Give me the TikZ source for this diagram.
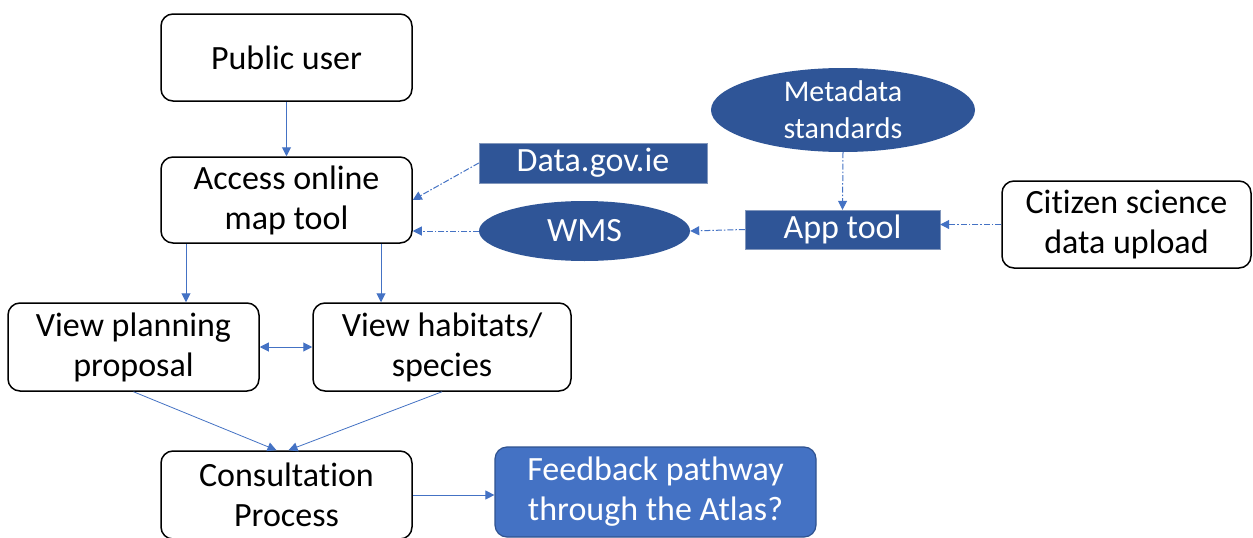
\documentclass[tikz,border=0pt]{standalone}
\usepackage{fontspec}
\setmainfont{Carlito}[Ligatures={NoCommon}]
\usetikzlibrary{arrows.meta,shapes.geometric}
\definecolor{dkblue}{HTML}{2F5597}
\definecolor{mdblue}{HTML}{4472C4}
\definecolor{bdblue}{HTML}{2F528F}
\tikzset{
  bigfont/.style={font=\fontsize{34}{40}\selectfont},
  whitebox/.style={draw=black, line width=1.5pt, rounded corners=12pt, fill=white, align=center,
    bigfont, inner sep=0pt},
  darkrect/.style={draw=bdblue!60, fill=dkblue, text=white, align=center, inner sep=0pt, bigfont},
  darkell/.style={ellipse, fill=dkblue, text=white, align=center, inner sep=0pt},
  feedbox/.style={draw=bdblue, line width=1.2pt, fill=mdblue, text=white, rounded corners=12pt, align=center,
    inner sep=0pt, bigfont},
  solidarrow/.style={draw=mdblue, line width=1pt, -{Triangle[length=9pt,width=9pt]}},
  dasharrow/.style={draw=mdblue, line width=1pt, dash pattern=on 6pt off 2pt on 1.5pt off 2pt,
    -{Triangle[length=9pt,width=9pt]}},
}
\begin{document}
\begin{tikzpicture}[x=1pt,y=-1pt]
\useasboundingbox[fill=white] (0,0) rectangle (1253,538);
\node[whitebox, minimum width=251pt, minimum height=87pt] (pub) at (286.5,57.5) {Public user};
\node[whitebox, minimum width=251pt, minimum height=86pt] (acc) at (286.5,200) {Access online\\map tool};
\node[whitebox, minimum width=251pt, minimum height=88pt] (vpp) at (133.5,347) {View planning\\proposal};
\node[whitebox, minimum width=258pt, minimum height=88pt] (vhs) at (442,347) {View habitats/\\species};
\node[whitebox, minimum width=251pt, minimum height=88pt] (con) at (286.5,495) {Consultation\\Process};
\node[feedbox, minimum width=321pt, minimum height=90pt] (fb) at (655.5,492) {Feedback pathway\\through the Atlas?};
\node[darkrect, minimum width=228pt, minimum height=40pt] (dgi) at (593,163) {Data.gov.ie};
\node[darkell, minimum width=211pt, minimum height=60pt, bigfont] (wms) at (584.5,231) {WMS};
\node[darkell, minimum width=264pt, minimum height=84pt, font=\fontsize{30}{37}\selectfont] (meta) at (843,110) {Metadata\\standards};
\node[darkrect, minimum width=195pt, minimum height=39pt] (app) at (842.5,229.5) {App tool};
\node[whitebox, minimum width=249pt, minimum height=87pt] (cit) at (1126.5,224.5) {Citizen science\\data upload};

\draw[solidarrow] (pub.south) -- (acc.north);
\draw[solidarrow] ([xshift=-100.5pt]acc.south) -- ([xshift=52.5pt]vpp.north);
\draw[solidarrow] ([xshift=94.5pt]acc.south) -- ([xshift=-61pt]vhs.north);
\draw[solidarrow, {Triangle[length=9pt,width=9pt]}-{Triangle[length=9pt,width=9pt]}] (vpp.east) -- (vhs.west);
\draw[solidarrow, line width=0.8pt] (vpp.south) -- ([xshift=-10pt]con.north);
\draw[solidarrow, line width=0.8pt] (vhs.south) -- ([xshift=2pt]con.north);
\draw[solidarrow] (con.east) -- (con.east -| fb.west);
\draw[dasharrow] (dgi.west) -- (acc.east);
\draw[dasharrow] (wms.west) -- (acc.east |- wms.west);
\draw[dasharrow] (app.west) -- (wms.east);
\draw[dasharrow] (meta.south) -- (app.north);
\draw[dasharrow] (cit.west) -- (cit.west -| app.east);
\end{tikzpicture}
\end{document}
